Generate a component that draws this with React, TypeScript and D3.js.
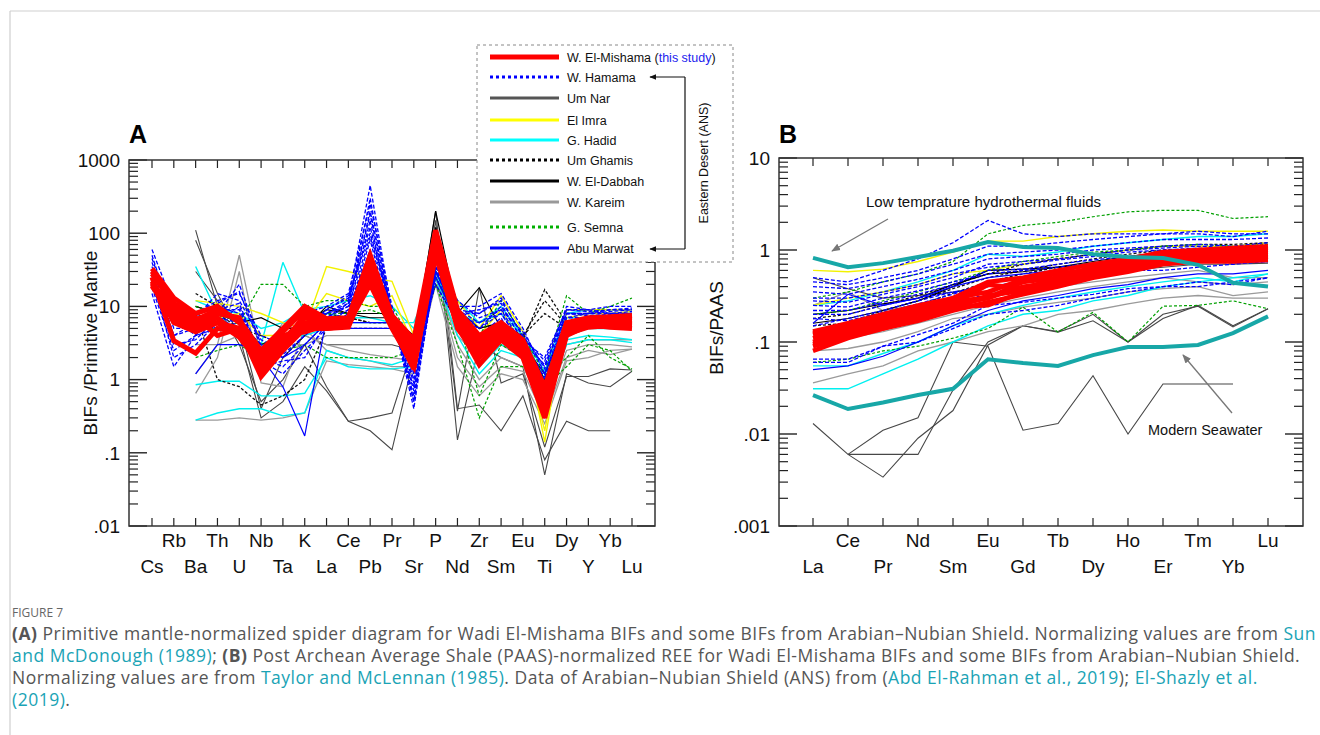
import React from 'react';
import * as d3 from 'd3';

// ---------- categories & tick labels ----------
const catsA = ['Cs','Rb','Ba','Th','U','Nb','Ta','K','La','Ce','Pb','Pr','Sr','P','Nd','Zr','Sm','Eu','Ti','Dy','Y','Yb','Lu'];
const catsB = ['La','Ce','Pr','Nd','Sm','Eu','Gd','Tb','Dy','Ho','Er','Tm','Yb','Lu'];
const yTicksA = [1000, 100, 10, 1, 0.1, 0.01];
const yTickLabelsA = ['1000', '100', '10', '1', '.1', '.01'];
const yTicksB = [10, 1, 0.1, 0.01, 0.001];
const yTickLabelsB = ['10', '1', '.1', '.01', '.001'];

type V = number | null;
const _ = null;

// ---------- Panel A: primitive-mantle normalized ----------
const miShamaA: V[][] = [
  [33,13,8,10,6,2.3,4.5,9,6.5,6.8,45,7,2.5,100,8,3.5,5.5,3,0.55,5,6.5,6.8,7],
  [21,9,6,8,7,1.5,3,6,5.5,6,30,6,1.8,80,6,2.5,4.5,2.5,0.45,4.5,6,6.2,6.5],
  [19,7,5,6,5,1.1,2.5,5,5,5.5,25,5.5,1.4,60,5,2,4,2.2,0.35,4,5.5,5.8,6],
  [25,3.4,2.3,5,4.5,1.8,3.5,7,6,6,35,6.5,2,90,7,3,5,2.8,0.5,4.8,6,6,6.2],
  [28,11,7,4,5,1.3,2.8,8,6,6.5,40,6,3,75,7.5,2.2,4.8,2.4,0.6,5.5,6.8,7,7.2],
  [20,8,5.5,7,4,2,4,4.5,5.5,5.8,20,5,1.5,50,5.5,1.6,3.5,2,0.3,4.2,5.2,5.5,5.5],
  [30,10,6.5,9,6.5,2.5,5,10,6.8,7,50,7.5,3.5,110,9,4,6,3.5,0.8,6,7,7.2,7.5],
  [22,6,4.5,6,3.8,1.6,3.2,5.5,5,5.2,28,5.2,1.7,65,6.5,2.8,4.2,2.6,0.4,4.4,5.6,5.2,5],
];
const hamamaA: V[][] = [
  [60,10,8,12,15,4,3,6,8,12,450,8,0.4,40,8,8,12,4,1.5,8,8,9,9],
  [40,5,5,8,20,3,2,4,7,10,300,7,0.6,30,10,10,15,5,1.2,7,8,8,8],
  [25,2,3,6,10,2,1.5,3,6,9,150,6,0.8,25,7,6,8,3,1,6,7,7,7.5],
  [15,1.5,4,10,8,2.5,4,5,9,14,100,9,1,50,9,5,10,3.5,2,9,9,10,10],
  [30,8,6,5,6,1.8,1.2,2.5,5,8,80,6,1.5,35,6,3,6,2.5,0.9,5,6,6,6.5],
  [50,6,7,15,12,3.5,2.5,8,10,15,250,10,0.5,60,12,7,9,4.5,1.4,10,9,8,8.5],
  [20,3,3.5,7,5,1.5,1.8,2,6,9,60,5,2,20,6,4,7,2,0.8,6,6.5,7,7],
  [35,4,5,9,9,2.2,3.5,7,8,11,200,8,0.7,45,8,9,11,3.2,1.6,8,7.5,7.8,8],
  [18,2.5,4,11,16,2.8,2.2,4,9,13,120,8,0.5,30,9,8,13,3.8,1.8,9,8.5,9,9.5],
  [28,4,6,7,6,3,2.8,5,8,10,90,8,1.2,35,9,6,9,3,1.2,8,8,8.5,9],
  [45,7,4,9,11,2,2.5,6,7,11,180,7,0.9,30,7,5,8,2.8,1.1,7,7,7.5,8],
];
const umNarA: V[][] = [
  [_,_,110,10,3,0.5,1,3,0.8,0.27,0.2,0.11,2,150,0.15,3,2,1.5,0.05,1.2,0.9,0.8,1.3],
  [_,_,80,15,4,0.3,0.5,1.5,0.7,0.27,0.3,0.35,3,200,0.4,0.45,0.2,0.6,0.08,0.27,0.2,0.2,_],
  [_,_,30,12,6,0.4,2,4,3,3,3,3,2.5,100,0.37,18,0.9,1.2,0.12,1.1,1.1,1.4,1.35],
];
const elImraA: V[][] = [
  [_,_,12,11,10,8,6,5,35,30,25,22,4,50,12,5,14,4.5,0.14,9,9,9,9],
  [_,_,6,7,8,4,4,6,15,12,10,14,3,40,9,4,9,3,0.2,7,8,8,8.5],
];
const hadidA: V[][] = [
  [_,_,35,8,4,3,40,8,8,7,7,6,6,30,8,6,8,4,1,7,7,6,6],
  [_,_,0.85,0.95,0.95,0.6,0.6,0.65,2,1.5,1.4,1.4,1.5,25,4,1.2,2.5,2,0.5,3,3.5,3.5,3.2],
  [_,_,0.28,0.35,0.4,0.4,0.32,0.35,2.5,2,1.8,1.6,2,30,5,1.5,3,2.2,0.6,3.5,4,3.8,3.5],
  [_,_,12,9,8,5,6,9,10,12,14,10,5,40,12,6,10,4,1.3,8,9,9,9],
  [_,_,5,5,4,3,4,4,5,6,6,6,4,30,6,3,5,3,1,4,5,5,5],
];
const umGhamisA: V[][] = [
  [_,_,15,10,6,2.5,2,4,8,7,6,6,3,30,8,4,6,3.5,17,6,6,6.5,7],
  [_,_,10,8,5,4,3,5,7,7,6,6,3,25,7,5,6,4,12,5.5,6,6,6.5],
  [_,_,8,1,0.8,0.45,0.6,1,5,5,5,5,2,20,6,3.5,5,4,8,5,5,5.5,6],
];
const elDabbahA: V[][] = [
  [_,_,10,8,6,7,5,5,10,8,8,8,3,200,8,18,5,3,1.2,6,6,6.5,7],
  [_,_,8,6,5,3,4,6,9,8,7,7,4,120,9,5,6,3.5,1,6,6,6,6],
];
const kareimA: V[][] = [
  [_,_,1.2,3,50,2,6,4,3,2.5,2.2,2,1.8,30,3,1,2,1.5,0.4,2.5,3,3,2.8],
  [_,_,0.65,2,30,0.9,0.8,5,2.5,2,1.8,1.5,1.5,25,2,0.8,1.5,1.3,0.3,2,2.5,2.2,2.6],
  [_,_,0.28,0.28,0.3,0.28,0.3,0.35,1.8,1.6,1.5,1.4,1.2,20,1.5,0.6,1.2,1,0.25,1.8,2,2.5,2.6],
  [_,_,3,3,4,2,3,3,4,4,4,4,3,25,4,2,3,2,0.6,3,3.5,3.5,3.5],
];
const semnaA: V[][] = [
  [_,_,10,8,6,20,20,10,12,12,10,10,3,30,10,4,12,4,1.2,14,8,10,13],
  [_,_,5,5,6,3,4,5,8,8,9,7,2,25,7,0.6,3,2,1,2,4,2,1.4],
  [_,_,2,2.5,3,2,2.5,3,2,2,2,2,2.5,20,3,0.3,1.5,1.5,0.8,1.5,3,2.5,1.3],
];
const abuMarwatA: V[][] = [
  [_,_,4,5,4,2,0.8,0.17,7,6,6,6,3,30,7,4,6,3,0.8,5,5.5,5.5,5.5],
  [_,_,1.2,3,3,2.5,2,3,6,5,5,5,2.5,25,6,3,5,2.5,0.7,4.5,5,5,5],
];

// ---------- Panel B: PAAS normalized REE ----------
const miShamaB: V[][] = [
  [0.13,0.16,0.2,0.25,0.3,0.45,0.5,0.6,0.7,0.8,0.95,1.0,1.05,1.1],
  [0.12,0.15,0.18,0.22,0.28,0.3,0.45,0.5,0.65,0.75,0.9,0.95,0.95,1.0],
  [0.11,0.14,0.17,0.2,0.25,0.3,0.4,0.45,0.6,0.7,0.85,0.9,0.9,0.95],
  [0.1,0.13,0.16,0.2,0.26,0.42,0.38,0.5,0.55,0.65,0.8,0.85,0.85,0.9],
  [0.095,0.12,0.15,0.18,0.24,0.25,0.35,0.42,0.52,0.6,0.75,0.8,0.8,0.85],
  [0.09,0.115,0.14,0.17,0.22,0.27,0.33,0.4,0.5,0.58,0.7,0.75,0.75,0.78],
  [0.125,0.15,0.19,0.23,0.3,0.35,0.48,0.55,0.62,0.72,0.9,1.0,1.0,1.05],
  [0.08,0.11,0.14,0.18,0.23,0.32,0.36,0.44,0.55,0.62,0.78,0.82,0.82,0.85],
];
const hamamaB: V[][] = [
  [0.5,0.45,0.6,0.8,1.2,2.1,1.5,1.4,1.5,1.5,1.5,1.6,1.5,1.5],
  [0.45,0.42,0.5,0.6,0.8,1.1,1.1,1.2,1.3,1.4,1.5,1.5,1.4,1.6],
  [0.4,0.38,0.45,0.55,0.7,0.9,0.95,1.0,1.1,1.2,1.3,1.3,1.3,1.35],
  [0.35,0.33,0.4,0.48,0.6,0.8,0.85,0.9,1.0,1.05,1.1,1.15,1.1,1.2],
  [0.3,0.3,0.35,0.42,0.55,0.65,0.7,0.78,0.85,0.95,1.0,1.05,1.0,1.05],
  [0.2,0.2,0.25,0.3,0.35,0.4,0.45,0.5,0.55,0.65,0.7,0.75,0.72,0.75],
  [0.06,0.06,0.09,0.1,0.14,0.2,0.22,0.25,0.3,0.35,0.4,0.4,0.45,0.5],
  [0.15,0.18,0.22,0.28,0.35,0.3,0.4,0.45,0.55,0.6,0.6,0.65,0.7,0.75],
  [0.25,0.24,0.3,0.36,0.45,0.55,0.6,0.65,0.72,0.8,0.85,0.9,0.9,0.95],
  [0.28,0.27,0.33,0.4,0.5,0.7,0.75,0.8,0.9,1.0,1.05,1.1,1.05,1.1],
  [0.22,0.22,0.27,0.33,0.42,0.6,0.62,0.7,0.78,0.85,0.9,0.95,0.9,0.95],
  [0.065,0.065,0.09,0.12,0.16,0.25,0.27,0.3,0.33,0.38,0.4,0.45,0.42,0.5],
  [0.18,0.17,0.21,0.26,0.33,0.45,0.5,0.55,0.62,0.7,0.75,0.8,0.78,0.85],
];
const umNarB: V[][] = [
  [0.013,0.006,0.011,0.015,0.1,0.09,0.011,0.013,0.043,0.01,0.035,0.035,0.035,_],
  [_,0.006,0.0034,0.009,0.018,0.093,0.15,0.128,0.17,0.1,0.2,0.245,0.146,0.23],
  [_,0.006,0.006,0.006,0.03,0.1,0.15,0.13,0.2,0.1,0.18,0.25,0.15,0.23],
  [0.5,0.38,0.3,0.32,0.35,0.4,0.45,0.5,0.55,0.6,0.65,0.7,0.7,0.72],
];
const elImraB: V[][] = [
  [0.6,0.58,0.62,0.75,0.95,1.25,1.25,1.4,1.5,1.6,1.65,1.6,1.6,1.6],
  [0.25,0.3,0.35,0.42,0.55,0.6,0.7,0.8,0.9,1.0,1.1,1.1,1.1,1.2],
];
const hadidB: V[][] = [
  [0.25,0.28,0.35,0.45,0.6,0.9,0.85,0.95,1.1,1.2,1.3,1.4,1.4,1.5],
  [0.031,0.031,0.045,0.065,0.1,0.15,0.2,0.22,0.28,0.32,0.4,0.45,0.5,0.55],
  [0.055,0.055,0.075,0.1,0.15,0.2,0.25,0.3,0.35,0.4,0.45,0.5,0.45,0.55],
];
const umGhamisB: V[][] = [
  [0.18,0.2,0.25,0.32,0.42,0.55,0.7,0.8,0.9,1.0,1.1,1.15,1.15,1.2],
  [0.15,0.16,0.22,0.28,0.38,0.5,0.6,0.7,0.8,0.9,1.0,1.0,1.05,1.1],
  [0.13,0.14,0.19,0.25,0.34,0.45,0.55,0.65,0.72,0.82,0.9,0.95,0.95,1.0],
];
const elDabbahB: V[][] = [
  [0.16,0.18,0.22,0.28,0.4,0.6,0.62,0.65,0.75,0.85,0.95,0.95,0.9,0.95],
  [0.2,0.22,0.26,0.3,0.42,0.55,0.58,0.65,0.7,0.75,0.8,0.78,0.78,0.8],
];
const kareimB: V[][] = [
  [0.25,0.35,0.22,0.25,0.3,0.35,0.35,0.4,0.45,0.5,0.55,0.6,0.5,0.5],
  [0.08,0.085,0.1,0.13,0.18,0.2,0.24,0.27,0.3,0.35,0.38,0.4,0.32,0.35],
  [0.036,0.045,0.055,0.08,0.1,0.13,0.15,0.2,0.22,0.26,0.3,0.32,0.3,0.3],
  [0.1,0.11,0.13,0.16,0.2,0.25,0.3,0.35,0.4,0.45,0.5,0.45,0.42,0.45],
];
const semnaB: V[][] = [
  [0.3,0.35,0.45,0.55,0.75,1.5,1.85,2.0,2.3,2.6,2.7,2.7,2.2,2.3],
  [0.06,0.065,0.08,0.09,0.11,0.14,0.24,0.128,0.21,0.1,0.245,0.25,0.28,0.23],
  [0.2,0.22,0.28,0.35,0.45,0.6,0.75,0.85,0.95,1.0,1.1,1.15,1.1,1.15],
];
const abuMarwatB: V[][] = [
  [0.05,0.055,0.07,0.1,0.15,0.22,0.28,0.32,0.38,0.42,0.5,0.55,0.55,0.6],
  [0.16,0.33,0.25,0.3,0.4,0.5,0.55,0.6,0.7,0.75,0.8,0.85,0.85,0.9],
];
const hydrothermalB: V[] = [0.82,0.65,0.72,0.84,0.98,1.22,1.08,1.05,0.9,0.84,0.82,0.69,0.44,0.4];
const seawaterB: V[] = [0.0265,0.0187,0.022,0.0265,0.031,0.065,0.059,0.055,0.072,0.088,0.088,0.093,0.125,0.19];

// ---------- legend ----------
const legendLabels = ['W. El-Mishama','W. Hamama','Um Nar','El Imra','G. Hadid','Um Ghamis','W. El-Dabbah','W. Kareim','G. Semna','Abu Marwat'];

// ---------- styles ----------
const FONT = "'Liberation Sans', Arial, Helvetica, sans-serif";
const RED = '#ff0000';
const BLUE = '#0000ff';
const DGRAY = '#474747';
const YELLOW = '#f2f200';
const CYAN = '#00f0f0';
const GREEN = '#00a000';
const LGRAY = '#9a9a9a';
const TEAL = '#17a7a7';

type Style = { color: string; w: number; dash?: string };
const styleOf: Record<string, Style> = {
  'W. El-Mishama': { color: RED, w: 5 },
  'W. Hamama': { color: BLUE, w: 1.3, dash: '4,2' },
  'Um Nar': { color: DGRAY, w: 1.1 },
  'El Imra': { color: YELLOW, w: 1.4 },
  'G. Hadid': { color: CYAN, w: 1.4 },
  'Um Ghamis': { color: '#111', w: 1.3, dash: '3,2' },
  'W. El-Dabbah': { color: '#000', w: 1.2 },
  'W. Kareim': { color: LGRAY, w: 1.3 },
  'G. Semna': { color: GREEN, w: 1.2, dash: '3,2' },
  'Abu Marwat': { color: BLUE, w: 1.2 },
};
const legendStyle: Record<string, Style> = {
  'W. El-Mishama': { color: RED, w: 5 },
  'W. Hamama': { color: BLUE, w: 3, dash: '3,3' },
  'Um Nar': { color: '#555', w: 3 },
  'El Imra': { color: '#ffff00', w: 3 },
  'G. Hadid': { color: '#00ffff', w: 3 },
  'Um Ghamis': { color: '#000', w: 3, dash: '3,3' },
  'W. El-Dabbah': { color: '#000', w: 3 },
  'W. Kareim': { color: '#999', w: 3 },
  'G. Semna': { color: '#00b000', w: 3, dash: '3,3' },
  'Abu Marwat': { color: BLUE, w: 3 },
};

const groupsA: [string, V[][]][] = [
  ['Um Nar', umNarA], ['W. Kareim', kareimA], ['G. Hadid', hadidA], ['El Imra', elImraA],
  ['Um Ghamis', umGhamisA], ['W. El-Dabbah', elDabbahA], ['G. Semna', semnaA],
  ['Abu Marwat', abuMarwatA], ['W. Hamama', hamamaA], ['W. El-Mishama', miShamaA],
];
const groupsB: [string, V[][]][] = [
  ['Um Nar', umNarB], ['W. Kareim', kareimB], ['G. Hadid', hadidB], ['El Imra', elImraB],
  ['Um Ghamis', umGhamisB], ['W. El-Dabbah', elDabbahB], ['G. Semna', semnaB],
  ['Abu Marwat', abuMarwatB], ['W. Hamama', hamamaB], ['W. El-Mishama', miShamaB],
];

function LogAxes({ x0, x1, y0, y1, y, cats, x, ticks, labels }: any) {
  const els: any[] = [];
  const [lo, hi] = y.domain();
  const minor: number[] = [];
  for (let e = Math.round(Math.log10(lo)); e < Math.round(Math.log10(hi)); e++) {
    for (let m = 2; m <= 9; m++) minor.push(m * Math.pow(10, e));
  }
  minor.forEach((v, i) => {
    const yy = y(v);
    els.push(<line key={'ml' + i} x1={x0} x2={x0 + 9} y1={yy} y2={yy} stroke="#222" strokeWidth={1.2} />);
    els.push(<line key={'mr' + i} x1={x1} x2={x1 - 9} y1={yy} y2={yy} stroke="#222" strokeWidth={1.2} />);
  });
  ticks.forEach((v: number, i: number) => {
    const yy = y(v);
    els.push(<line key={'Ml' + i} x1={x0} x2={x0 + 18} y1={yy} y2={yy} stroke="#222" strokeWidth={1.4} />);
    els.push(<line key={'Mr' + i} x1={x1} x2={x1 - 18} y1={yy} y2={yy} stroke="#222" strokeWidth={1.4} />);
    els.push(<text key={'Mt' + i} x={x0 - 9} y={yy} dy="0.36em" textAnchor="end" fontSize={19} fontFamily={FONT} fill="#111">{labels[i]}</text>);
  });
  cats.forEach((c: string, i: number) => {
    const xx = x(c);
    els.push(<line key={'tt' + i} x1={xx} x2={xx} y1={y0} y2={y0 + 8} stroke="#222" strokeWidth={1.2} />);
    els.push(<line key={'tb' + i} x1={xx} x2={xx} y1={y1} y2={y1 - 8} stroke="#222" strokeWidth={1.2} />);
    els.push(<text key={'tl' + i} x={xx} y={i % 2 === 0 ? 566 : 540} dy="0.36em" textAnchor="middle" fontSize={19} fontFamily={FONT} fill="#111">{c}</text>);
  });
  els.push(<rect key="frame" x={x0} y={y0} width={x1 - x0} height={y1 - y0} fill="none" stroke="#333" strokeWidth={1.5} />);
  return <g>{els}</g>;
}

function Lines({ groups, x, y, cats, redW }: any) {
  const line = d3.line<V>()
    .defined((d) => d != null)
    .x((_d, i) => x(cats[i]) as number)
    .y((d) => y(d as number));
  const out: any[] = [];
  groups.forEach(([name, rows]: [string, V[][]], gi: number) => {
    const s = styleOf[name];
    rows.forEach((r, ri) => {
      out.push(
        <path key={gi + '-' + ri} d={line(r) || ''} fill="none" stroke={s.color}
          strokeWidth={name === 'W. El-Mishama' ? redW : s.w} strokeDasharray={s.dash}
          strokeLinejoin="miter" strokeMiterlimit={3} />
      );
    });
  });
  return <g>{out}</g>;
}

export default function App() {
  // Panel A
  const axA = { x0: 129, x1: 655, y0: 160, y1: 526 };
  const xA = d3.scalePoint<string>().domain(catsA).range([152, 632]);
  const yA = d3.scaleLog().domain([0.01, 1000]).range([axA.y1, axA.y0]);
  // Panel B
  const axB = { x0: 779, x1: 1303, y0: 158, y1: 526 };
  const xB = d3.scalePoint<string>().domain(catsB).range([813, 1268]);
  const yB = d3.scaleLog().domain([0.001, 10]).range([axB.y1, axB.y0]);
  const tealLine = d3.line<V>().defined((d) => d != null).x((_d, i) => xB(catsB[i]) as number).y((d) => yB(d as number));

  const legendYs = [57, 77, 98, 120, 140, 160, 181, 202, 227, 248];

  const capStyle = { fontFamily: "'Open Sans', 'Noto Sans', sans-serif", fontSize: 17.5, letterSpacing: 0.5, fill: '#555' } as any;
  const LINK = '#1aa3b5';

  return (
    <svg width={1320} height={735} style={{ position: 'absolute', left: 0, top: 0, background: '#fff' }}>
      <defs>
        <marker id="arrG" viewBox="0 0 10 10" refX="9" refY="5" markerWidth="9" markerHeight="9" orient="auto" markerUnits="userSpaceOnUse">
          <path d="M0,1 L10,5 L0,9 z" fill="#777" />
        </marker>
        <marker id="arrK" viewBox="0 0 10 10" refX="9" refY="5" markerWidth="7" markerHeight="7" orient="auto" markerUnits="userSpaceOnUse">
          <path d="M0,1 L10,5 L0,9 z" fill="#111" />
        </marker>
      </defs>
      {/* card border */}
      <line x1={10} x2={1320} y1={11} y2={11} stroke="#cfcfcf" strokeWidth={1.2} />
      <line x1={10} x2={10} y1={11} y2={735} stroke="#cfcfcf" strokeWidth={1.2} />

      {/* Panel A */}
      <Lines groups={groupsA} x={xA} y={yA} cats={catsA} redW={5} />
      <LogAxes {...axA} y={yA} x={xA} cats={catsA} ticks={yTicksA} labels={yTickLabelsA} />
      <text x={129} y={143} fontSize={25} fontWeight="bold" fontFamily={FONT}>A</text>
      <text transform="translate(97,343) rotate(-90)" textAnchor="middle" fontSize={19} fontFamily={FONT} fill="#111">BIFs /Primitive Mantle</text>

      {/* Panel B */}
      <Lines groups={groupsB} x={xB} y={yB} cats={catsB} redW={4.5} />
      <path d={tealLine(hydrothermalB) || ''} fill="none" stroke={TEAL} strokeWidth={4} />
      <path d={tealLine(seawaterB) || ''} fill="none" stroke={TEAL} strokeWidth={4} />
      <LogAxes {...axB} y={yB} x={xB} cats={catsB} ticks={yTicksB} labels={yTickLabelsB} />
      <text x={779} y={143} fontSize={25} fontWeight="bold" fontFamily={FONT}>B</text>
      <text transform="translate(723,328) rotate(-90)" textAnchor="middle" fontSize={19} fontFamily={FONT} fill="#111">BIFs/PAAS</text>
      <text x={866} y={207} fontSize={15} fontFamily={FONT} fill="#111">Low temprature hydrothermal fluids</text>
      <line x1={888} y1={219} x2={832} y2={251} stroke="#777" strokeWidth={1.3} markerEnd="url(#arrG)" />
      <text x={1148} y={435} fontSize={14.5} fontFamily={FONT} fill="#111">Modern Seawater</text>
      <line x1={1232} y1={413} x2={1183} y2={355} stroke="#777" strokeWidth={1.3} markerEnd="url(#arrG)" />

      {/* Legend */}
      <rect x={477} y={45} width={256} height={217} fill="#fff" stroke="#888" strokeWidth={1} strokeDasharray="3,3" />
      {legendLabels.map((lab, i) => {
        const s = legendStyle[lab];
        const yy = legendYs[i];
        return (
          <g key={lab}>
            <line x1={490} x2={559} y1={yy} y2={yy} stroke={s.color} strokeWidth={s.w} strokeDasharray={s.dash} />
            <text x={567} y={yy} dy="0.36em" fontSize={12.5} fontFamily={FONT} fill="#111">
              {lab}
              {i === 0 ? <tspan> (<tspan fill="#2222ee">this study</tspan>)</tspan> : null}
            </text>
          </g>
        );
      })}
      <line x1={685} x2={685} y1={77} y2={249} stroke="#111" strokeWidth={1.2} />
      <line x1={685} x2={650} y1={77} y2={77} stroke="#111" strokeWidth={1.2} markerEnd="url(#arrK)" />
      <line x1={685} x2={650} y1={249} y2={249} stroke="#111" strokeWidth={1.2} markerEnd="url(#arrK)" />
      <text transform="translate(703,163) rotate(-90)" textAnchor="middle" dy="0.36em" fontSize={12.5} fontFamily={FONT} fill="#111">Eastern Desert (ANS)</text>

      {/* Caption */}
      <text x={12} y={617} fontFamily="'Open Sans', sans-serif" fontSize={12} fill="#666">FIGURE 7</text>
      <text x={12} y={640} {...capStyle}>
        <tspan fontWeight="bold">(A)</tspan> Primitive mantle-normalized spider diagram for Wadi El-Mishama BIFs and some BIFs from Arabian–Nubian Shield. Normalizing values are from <tspan fill={LINK}>Sun</tspan>
      </text>
      <text x={12} y={662} {...capStyle}>
        <tspan fill={LINK}>and McDonough (1989)</tspan>; <tspan fontWeight="bold">(B)</tspan> Post Archean Average Shale (PAAS)-normalized REE for Wadi El-Mishama BIFs and some BIFs from Arabian–Nubian Shield.
      </text>
      <text x={12} y={684} {...capStyle}>
        Normalizing values are from <tspan fill={LINK}>Taylor and McLennan (1985)</tspan>. Data of Arabian–Nubian Shield (ANS) from (<tspan fill={LINK}>Abd El-Rahman et al., 2019</tspan>); <tspan fill={LINK}>El-Shazly et al.</tspan>
      </text>
      <text x={12} y={706} {...capStyle}>
        <tspan fill={LINK}>(2019)</tspan>.
      </text>
    </svg>
  );
}
